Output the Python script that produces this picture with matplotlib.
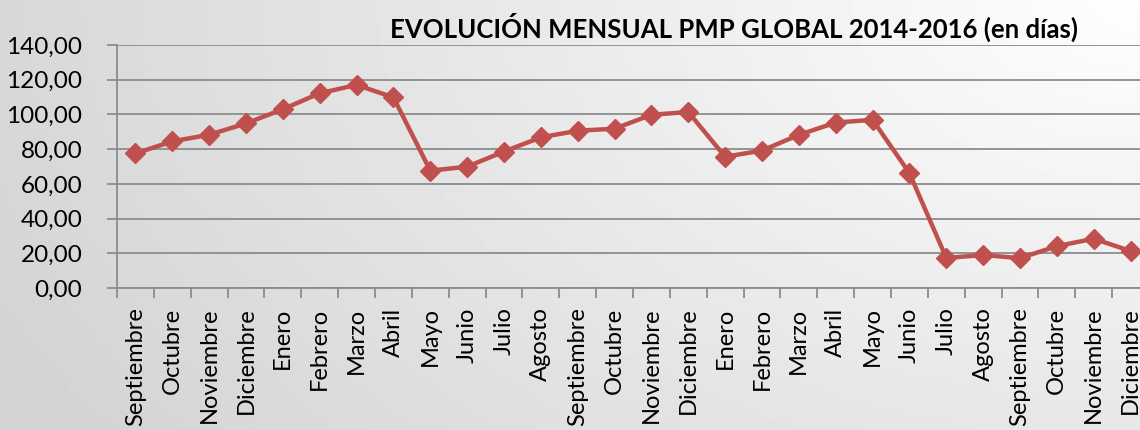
import numpy as np
import matplotlib.pyplot as plt
from matplotlib.ticker import FixedLocator, FuncFormatter

months = ["Septiembre", "Octubre", "Noviembre", "Diciembre", "Enero", "Febrero",
          "Marzo", "Abril", "Mayo", "Junio", "Julio", "Agosto",
          "Septiembre", "Octubre", "Noviembre", "Diciembre", "Enero", "Febrero",
          "Marzo", "Abril", "Mayo", "Junio", "Julio", "Agosto",
          "Septiembre", "Octubre", "Noviembre", "Diciembre"]
pmp = [77.5, 84.5, 88.3, 94.8, 103.0, 112.2, 117.0, 109.8, 67.6, 69.9, 78.6, 86.8,
       90.6, 91.8, 99.8, 101.4, 75.6, 79.2, 88.2, 95.3, 96.9, 66.2, 17.3, 19.0,
       17.2, 24.1, 28.4, 21.3]

plt.rcParams['font.family'] = ['Lato', 'DejaVu Sans']

fig = plt.figure(figsize=(11.4, 4.3), dpi=100)

# background gradient, lighter towards the top right
bg = fig.add_axes([0, 0, 1, 1], zorder=-10)
xx, yy = np.meshgrid(np.linspace(0, 1, 300), np.linspace(0, 1, 120))
d = np.sqrt((1 - xx) ** 2 + (0.6 * yy) ** 2)
shade = 0.995 - 0.15 * np.clip(d, 0, 1.1)
bg.imshow(shade, cmap="gray", vmin=0, vmax=1, aspect="auto",
          extent=[0, 1, 0, 1], origin="upper")
bg.axis("off")

W, H = 1140, 430
ax = fig.add_axes([117 / W, 1 - 288 / H, (1149 - 117) / W, (288 - 45) / H])
ax.set_facecolor("none")

x = np.arange(len(months))
ax.plot(x, pmp, color="#c0504d", lw=3.2, marker="D", ms=10, zorder=3, clip_on=False)

ax.set_xlim(-0.5, len(months) - 0.5)
ax.set_ylim(0, 140)
ax.set_yticks(np.arange(0, 141, 20))
ax.yaxis.set_major_formatter(FuncFormatter(lambda v, p: f"{v:.2f}".replace(".", ",")))
ax.grid(axis="y", color="#8c8c8c", lw=1.3)
ax.set_axisbelow(True)

ax.set_xticks(x)
ax.set_xticklabels(months, rotation=90, va="top", ha="center")
ax.xaxis.set_minor_locator(FixedLocator(np.arange(-0.5, len(months), 1)))
ax.tick_params(axis="x", which="major", length=0, pad=14, labelsize=17)
ax.tick_params(axis="x", which="minor", length=7, width=1.3, color="#8c8c8c", direction="out")
ax.tick_params(axis="y", length=7, width=1.3, color="#8c8c8c", pad=18, labelsize=17.5)

for s in ["top", "right"]:
    ax.spines[s].set_visible(False)
for s in ["left", "bottom"]:
    ax.spines[s].set_color("#8c8c8c")
    ax.spines[s].set_linewidth(1.3)

fig.text(734 / W, 1 - 27 / H, "EVOLUCIÓN MENSUAL PMP GLOBAL 2014-2016 (en días)",
         ha="center", va="center", fontsize=18.5, fontweight="bold")

fig.savefig("out.png", dpi=100)
